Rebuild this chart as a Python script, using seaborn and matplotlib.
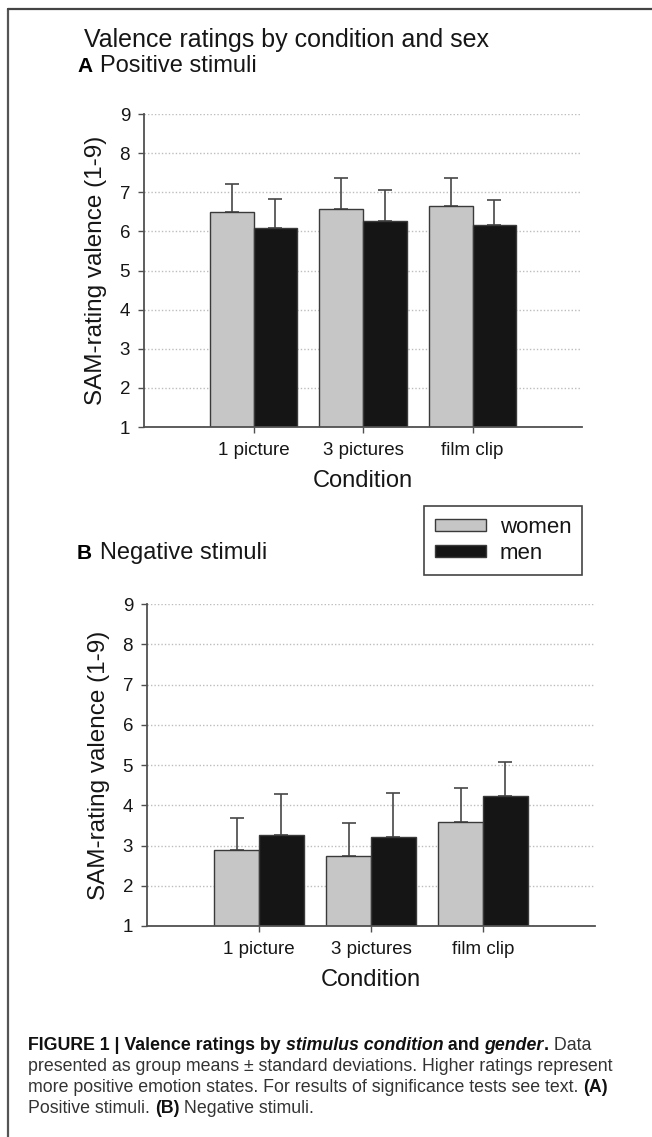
import numpy as np
import pandas as pd
import matplotlib
matplotlib.use('Agg')
import matplotlib.pyplot as plt
import seaborn as sns
from matplotlib.patches import Patch
from matplotlib.lines import Line2D

# ---------------- data ----------------
conditions = ['1 picture', '3 pictures', 'film clip']
sexes = ['women', 'men']

pos_women = [6.49, 6.56, 6.64]
pos_women_sd = [0.72, 0.80, 0.72]
pos_men = [6.09, 6.26, 6.16]
pos_men_sd = [0.74, 0.80, 0.65]

neg_women = [2.88, 2.73, 3.58]
neg_women_sd = [0.80, 0.82, 0.85]
neg_men = [3.26, 3.20, 4.23]
neg_men_sd = [1.01, 1.10, 0.84]

y_ticks = [1, 2, 3, 4, 5, 6, 7, 8, 9]
bar_colors = ['#c6c6c6', '#151515']

# ---------------- style ----------------
sns.set_style('white')
plt.rcParams['font.family'] = ['Liberation Sans', 'DejaVu Sans']

W, H = 652, 1137
fig = plt.figure(figsize=(W / 100, H / 100), dpi=100)


def fx(px):
    return px / W


def fy(py):
    return 1 - py / H


TXT = '#161616'
AX = '#505050'


def panel(left, top, right, bottom, women, men, women_sd, men_sd):
    ax = fig.add_axes([fx(left), fy(bottom), (right - left) / W, (bottom - top) / H])
    df = pd.DataFrame({
        'condition': conditions * 2,
        'sex': ['women'] * len(conditions) + ['men'] * len(conditions),
        'value': list(women) + list(men),
        'sd': list(women_sd) + list(men_sd),
    })
    sns.barplot(data=df, x='condition', y='value', hue='sex', order=conditions,
                hue_order=sexes, palette=dict(zip(sexes, bar_colors)),
                saturation=1, edgecolor='#3a3a3a', linewidth=1.0,
                errorbar=None, width=0.8, legend=False, ax=ax, zorder=2)
    # upward error bars at the bars drawn by seaborn
    bars = sorted(ax.patches, key=lambda p: p.get_x())
    sd_lookup = {(r.condition, r.sex): r.sd for r in df.itertuples()}
    sd_order = [sd_lookup[(c, s)] for c in conditions for s in sexes]
    for p, sd in zip(bars, sd_order):
        xc = p.get_x() + p.get_width() / 2
        h = p.get_height()
        ax.errorbar([xc], [h], yerr=[[0], [sd]], fmt='none', ecolor='#474747',
                    elinewidth=1.2, capsize=5, capthick=1.2, zorder=1.5)

    ax.set_xlim(-1, len(conditions))
    ax.set_ylim(1, 9)
    ax.set_yticks(y_ticks)
    ax.set_axisbelow(True)
    ax.yaxis.grid(True, color='#bdbdbd', linestyle=(0, (1, 1.5)), linewidth=1.0)
    ax.xaxis.grid(False)
    for s in ['top', 'right']:
        ax.spines[s].set_visible(False)
    for s in ['left', 'bottom']:
        ax.spines[s].set_color(AX)
        ax.spines[s].set_linewidth(1.3)
    ax.tick_params(axis='both', direction='out', length=4, width=1, color=AX,
                   labelsize=13.5, labelcolor=TXT, bottom=True, left=True)
    ax.tick_params(axis='x', pad=7)
    ax.tick_params(axis='y', pad=6)
    ax.set_xlabel('Condition', fontsize=17, labelpad=8, color=TXT)
    ax.set_ylabel('SAM-rating valence (1-9)', fontsize=17.5, labelpad=9, color=TXT)
    return ax


ax1 = panel(144, 114, 582, 427, pos_women, pos_men, pos_women_sd, pos_men_sd)
ax2 = panel(147, 604, 595, 926, neg_women, neg_men, neg_women_sd, neg_men_sd)

# ---------------- headings ----------------
fig.text(fx(84), fy(47), 'Valence ratings by condition and sex', fontsize=18,
         va='baseline', ha='left', color=TXT)
fig.text(fx(77), fy(72), 'A', fontsize=15, fontweight='bold', va='baseline', ha='left', color='#000')
fig.text(fx(100), fy(72), 'Positive stimuli', fontsize=17, va='baseline', ha='left', color=TXT)
fig.text(fx(77), fy(559), 'B', fontsize=15, fontweight='bold', va='baseline', ha='left', color='#000')
fig.text(fx(100), fy(559), 'Negative stimuli', fontsize=17, va='baseline', ha='left', color=TXT)

# ---------------- legend ----------------
handles = [Patch(facecolor=c, edgecolor='#3a3a3a', linewidth=1.0, label=s)
           for s, c in zip(sexes, bar_colors)]
leg = fig.legend(handles=handles, loc='upper left', bbox_to_anchor=(fx(424), fy(506)),
                 frameon=True, fancybox=False, edgecolor='#444444', framealpha=1,
                 fontsize=16, handlelength=2.3, handleheight=0.45, borderpad=0.5,
                 labelspacing=0.2, handletextpad=0.6, borderaxespad=0)
leg.get_frame().set_linewidth(1.2)
for t in leg.get_texts():
    t.set_color(TXT)

# ---------------- frame ----------------
fig.add_artist(Line2D([fx(8), fx(8)], [fy(9), 0], color='#555555', lw=1.6,
                      transform=fig.transFigure))
fig.add_artist(Line2D([fx(8), 1], [fy(9), fy(9)], color='#444444', lw=1.6,
                      transform=fig.transFigure))

# ---------------- caption ----------------
renderer = fig.canvas.get_renderer()
CAP = 12.8


def text_width(txt, weight, style):
    t = fig.text(0, 0, txt + '|', fontsize=CAP, fontweight=weight, fontstyle=style)
    w1 = t.get_window_extent(renderer).width
    t.set_text('|')
    w2 = t.get_window_extent(renderer).width
    t.remove()
    return w1 - w2


def rich_line(x_px, y_px, pieces):
    x = x_px
    for txt, weight, style in pieces:
        col = '#111111' if weight == 'bold' else '#333333'
        fig.text(fx(x), fy(y_px), txt, fontsize=CAP, fontweight=weight, fontstyle=style,
                 va='baseline', ha='left', color=col)
        x += text_width(txt, weight, style)


rich_line(28, 1050, [('FIGURE 1 | Valence ratings by ', 'bold', 'normal'),
                     ('stimulus condition', 'bold', 'italic'),
                     (' and ', 'bold', 'normal'),
                     ('gender', 'bold', 'italic'),
                     ('.', 'bold', 'normal'),
                     (' Data', 'normal', 'normal')])
rich_line(28, 1071, [('presented as group means \u00b1 standard deviations. Higher ratings represent',
                      'normal', 'normal')])
rich_line(28, 1092, [('more positive emotion states. For results of significance tests see text. ',
                      'normal', 'normal'),
                     ('(A)', 'bold', 'normal')])
rich_line(28, 1113, [('Positive stimuli. ', 'normal', 'normal'),
                     ('(B)', 'bold', 'normal'),
                     (' Negative stimuli.', 'normal', 'normal')])

fig.savefig('out.png', dpi=100)
